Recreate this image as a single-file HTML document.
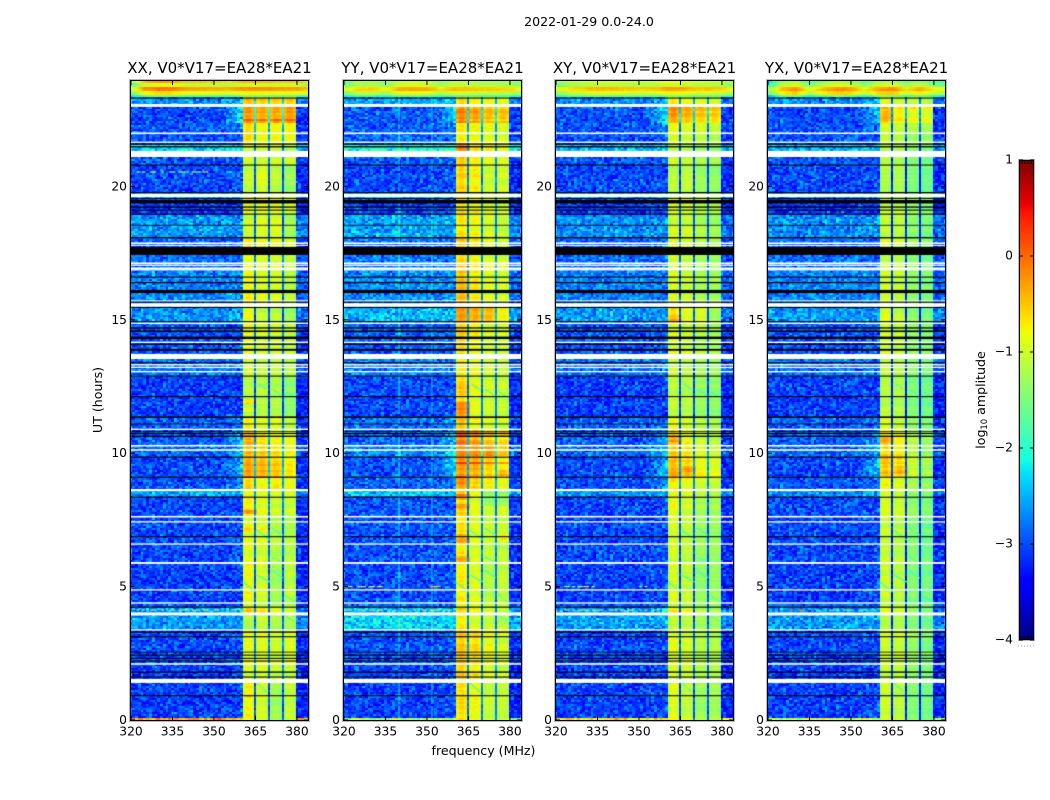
<!DOCTYPE html>
<html>
<head>
<meta charset="utf-8">
<title>2022-01-29 dynamic spectra</title>
<style>
html,body{margin:0;padding:0;background:#fff;}
#figure{position:relative;width:1050px;height:800px;overflow:hidden;background:#fff;font-family:"DejaVu Sans","Liberation Sans",sans-serif;}
#figure canvas{position:absolute;display:block;}
#overlay{position:absolute;left:0;top:0;}
#overlay text{font-family:"DejaVu Sans","Liberation Sans",sans-serif;fill:#000;}
</style>
</head>
<body>
<div id="figure">
<canvas id="c0" width="177" height="639" style="left:131px;top:81px"></canvas>
<canvas id="c1" width="177" height="639" style="left:344px;top:81px"></canvas>
<canvas id="c2" width="177" height="639" style="left:556px;top:81px"></canvas>
<canvas id="c3" width="177" height="639" style="left:768px;top:81px"></canvas>
<canvas id="cbar" width="15" height="480" style="left:1019px;top:160px"></canvas>
<svg id="overlay" width="1050" height="800" xmlns="http://www.w3.org/2000/svg">
<text x="589" y="26" text-anchor="middle" font-size="12.6">2022-01-29 0.0-24.0</text>
<text x="483.5" y="755" text-anchor="middle" font-size="12.6">frequency (MHz)</text>
<text transform="translate(102,400) rotate(-90)" text-anchor="middle" font-size="12.6">UT (hours)</text>
<text transform="translate(985,400) rotate(-90)" text-anchor="middle" font-size="12.6">log<tspan font-size="8.4" dy="2">10</tspan><tspan dy="-2"> amplitude</tspan></text>
</svg>
</div>
<script>
/* axis tick labels */
const freqTicks = [320, 335, 350, 365, 380];
const hourTicks = [0, 5, 10, 15, 20];
const colorTicks = [1, 0, -1, -2, -3, -4];
const panelNames = ["XX", "YY", "XY", "YX"];
const baselineTitle = "V0*V17=EA28*EA21";

/* UT hours (upper edge) of each time block in the tables below; last value closes the last block */
const blockEdges = [23.95,23.84,23.73,23.58,23.46,23.35,22.98,22.38,22.00,21.66,21.52,21.33,20.80,19.76,19.56,18.92,18.08,17.43,16.87,15.47,14.87,13.53,12.89,11.36,10.87,10.27,9.87,9.08,8.63,8.35,7.62,5.89,4.38,4.21,3.97,3.37,2.10,1.39,0.06,0];

/* log10 amplitude for each block: background, shoulder, sub-band 1..4 (first five blocks: top stripes use the first value) */
const xxLevels = [
[-0.6,-0.8,-0.75,-0.8,-0.8,-0.9],[-1.15,-1.3,-1.1,-1.2,-1.1,-1.2],[-0.45,-0.7,-0.7,-0.75,-0.7,-0.8],[-0.9,-1.2,-1.0,-1.1,-1.1,-1.2],[-1.7,-1.8,-1.3,-1.4,-1.4,-1.5],
[-2.7,-2.6,-0.5,-0.6,-0.6,-0.6],[-3.05,-2.2,-0.25,-0.35,-0.35,-0.3],[-3.0,-2.8,-0.7,-0.85,-0.85,-0.85],[-3.0,-2.9,-0.6,-0.8,-0.8,-0.8],[-2.9,-2.8,-0.8,-0.9,-0.9,-1.0],
[-2.3,-2.3,-1.0,-1.0,-1.0,-1.2],[-3.0,-3.0,-1.0,-1.0,-1.0,-1.0],[-3.05,-3.0,-1.1,-0.95,-1.15,-1.35],[-2.4,-2.4,-1.0,-0.9,-0.9,-1.0],[-3.15,-3.1,-0.85,-0.85,-0.85,-1.0],
[-2.65,-2.65,-1.05,-0.95,-0.95,-1.3],[-2.9,-2.9,-0.7,-0.75,-0.8,-1.0],[-2.85,-2.85,-0.85,-0.9,-1.0,-1.1],[-2.75,-2.75,-0.8,-0.95,-1.0,-1.15],[-2.65,-2.6,-0.85,-1.1,-1.15,-1.35],
[-3.0,-3.0,-0.85,-0.95,-1.0,-1.1],[-2.85,-2.8,-1.0,-1.1,-1.1,-1.2],[-3.1,-3.1,-1.15,-1.15,-1.2,-1.4],[-2.95,-2.9,-0.85,-1.0,-1.0,-1.2],[-2.95,-2.6,-0.45,-0.75,-0.85,-0.9],
[-2.9,-2.5,-0.5,-0.6,-0.7,-0.85],[-3.05,-2.5,-0.35,-0.45,-0.55,-0.75],[-3.0,-2.7,-0.6,-0.8,-0.75,-0.85],[-2.6,-2.6,-0.9,-0.95,-1.0,-1.0],[-3.05,-3.0,-0.7,-0.9,-1.05,-1.05],
[-3.05,-3.0,-0.95,-1.0,-1.2,-1.2],[-3.1,-3.05,-0.85,-1.0,-1.3,-1.15],[-2.95,-2.9,-1.0,-1.1,-1.2,-1.2],[-2.65,-2.5,-0.6,-0.7,-1.0,-1.1],[-2.65,-2.6,-1.2,-1.05,-1.2,-1.2],
[-3.05,-3.0,-0.9,-0.9,-1.05,-0.95],[-3.1,-3.05,-1.0,-0.95,-1.1,-1.1],[-3.1,-3.05,-0.8,-1.0,-1.3,-1.1],[-0.35,-0.4,-0.8,-1.0,-1.3,-1.1]
];
const yyLevels = [
[-1.3,-1.0,-1.0,-1.1,-1.1,-1.2],[-1.3,-1.4,-1.1,-1.2,-1.2,-1.3],[-0.7,-0.9,-0.9,-1.0,-1.0,-1.1],[-1.2,-1.3,-1.0,-1.2,-1.2,-1.3],[-1.9,-1.9,-1.3,-1.5,-1.5,-1.6],
[-2.6,-2.5,-0.6,-0.8,-0.8,-0.9],[-3.0,-2.3,-0.2,-0.35,-0.5,-0.55],[-2.95,-2.8,-0.7,-0.85,-0.9,-0.95],[-2.9,-2.8,-0.75,-0.85,-0.95,-1.0],[-2.85,-2.8,-0.5,-0.8,-0.9,-1.0],
[-2.1,-2.1,-0.25,-0.7,-0.8,-0.95],[-3.0,-2.9,-0.6,-0.8,-0.95,-1.0],[-3.05,-3.0,-0.6,-0.75,-1.05,-1.0],[-2.3,-2.2,-0.8,-0.8,-1.0,-1.0],[-3.1,-3.05,-0.7,-0.8,-0.95,-1.05],
[-2.6,-2.6,-0.7,-0.85,-1.0,-1.1],[-2.85,-2.85,-0.5,-0.7,-0.85,-1.0],[-2.8,-2.8,-0.6,-0.8,-1.0,-1.05],[-2.7,-2.7,-0.5,-0.75,-0.95,-1.0],[-2.5,-2.5,-0.3,-0.4,-0.5,-0.8],
[-2.95,-2.95,-0.6,-0.8,-1.0,-1.0],[-2.8,-2.8,-0.75,-0.9,-1.05,-1.1],[-3.05,-3.0,-0.6,-0.9,-1.05,-1.1],[-2.85,-2.7,-0.5,-0.8,-0.95,-1.0],[-2.9,-2.5,-0.3,-0.5,-0.75,-0.85],
[-2.75,-2.3,-0.2,-0.25,-0.3,-0.55],[-3.0,-2.4,-0.25,-0.4,-0.6,-0.8],[-2.95,-2.7,-0.45,-0.6,-0.75,-0.9],[-2.4,-2.4,-0.5,-0.85,-1.1,-1.1],[-3.0,-3.0,-0.65,-0.95,-1.1,-1.05],
[-3.0,-3.0,-0.7,-0.95,-1.1,-1.1],[-3.05,-3.0,-0.75,-0.95,-1.2,-1.1],[-2.9,-2.9,-0.9,-1.0,-1.1,-1.1],[-2.5,-2.4,-0.6,-0.8,-1.0,-1.1],[-2.35,-2.35,-0.75,-1.0,-1.1,-1.15],
[-3.0,-2.95,-0.55,-0.65,-0.85,-1.0],[-3.05,-3.0,-0.55,-0.7,-0.95,-1.05],[-3.1,-3.05,-0.65,-0.85,-1.1,-1.1],[-1.3,-1.3,-0.65,-0.85,-1.1,-1.1]
];
const xyLevels = [
[-1.1,-0.9,-1.0,-1.1,-1.2,-1.3],[-1.3,-1.3,-1.2,-1.3,-1.3,-1.4],[-0.65,-0.9,-0.9,-1.0,-1.1,-1.2],[-1.1,-1.3,-1.2,-1.3,-1.3,-1.4],[-1.8,-1.9,-1.4,-1.5,-1.5,-1.6],
[-2.7,-2.6,-0.7,-0.8,-0.9,-1.0],[-3.0,-2.3,-0.3,-0.45,-0.55,-0.6],[-3.0,-2.8,-0.9,-1.0,-1.05,-1.15],[-3.0,-2.85,-0.95,-1.05,-1.1,-1.2],[-2.95,-2.85,-1.0,-1.1,-1.2,-1.3],
[-2.45,-2.4,-1.05,-1.1,-1.25,-1.35],[-3.0,-2.95,-1.05,-1.1,-1.25,-1.3],[-3.05,-3.0,-1.15,-1.1,-1.35,-1.4],[-2.5,-2.4,-1.1,-1.1,-1.2,-1.3],[-3.15,-3.1,-0.95,-1.0,-1.15,-1.2],
[-2.7,-2.7,-1.05,-1.05,-1.25,-1.35],[-2.9,-2.9,-0.85,-0.95,-1.1,-1.2],[-2.85,-2.85,-1.0,-1.1,-1.25,-1.3],[-2.75,-2.75,-0.95,-1.05,-1.25,-1.3],[-2.65,-2.65,-0.7,-0.9,-0.95,-1.3],
[-3.0,-3.0,-0.95,-1.05,-1.25,-1.3],[-2.85,-2.85,-1.05,-1.15,-1.3,-1.35],[-3.1,-3.05,-1.1,-1.15,-1.35,-1.4],[-2.95,-2.85,-0.9,-1.05,-1.2,-1.3],[-2.95,-2.6,-0.6,-0.85,-1.05,-1.15],
[-2.9,-2.5,-0.55,-0.7,-0.95,-1.05],[-3.05,-2.5,-0.45,-0.6,-0.85,-0.95],[-3.0,-2.75,-0.7,-0.85,-1.0,-1.05],[-2.65,-2.6,-0.95,-1.0,-1.2,-1.25],[-3.05,-3.0,-0.85,-1.0,-1.25,-1.25],
[-3.05,-3.0,-1.0,-1.1,-1.35,-1.35],[-3.1,-3.05,-1.0,-1.1,-1.4,-1.35],[-2.95,-2.9,-1.05,-1.15,-1.3,-1.3],[-2.7,-2.5,-0.7,-0.85,-1.15,-1.25],[-2.6,-2.55,-1.1,-1.15,-1.3,-1.3],
[-3.05,-3.0,-0.9,-1.0,-1.2,-1.2],[-3.1,-3.05,-1.0,-1.05,-1.25,-1.25],[-3.1,-3.05,-0.95,-1.1,-1.35,-1.3],[-0.7,-0.8,-0.95,-1.1,-1.35,-1.3]
];
const yxLevels = [
[-1.6,-1.0,-1.1,-1.2,-1.3,-1.4],[-1.2,-1.4,-1.3,-1.4,-1.4,-1.5],[-0.55,-0.9,-1.0,-1.1,-1.2,-1.3],[-0.9,-1.3,-1.3,-1.4,-1.4,-1.5],[-1.8,-2.0,-1.5,-1.6,-1.6,-1.7],
[-2.7,-2.6,-0.9,-1.0,-1.1,-1.2],[-3.05,-2.4,-0.55,-0.75,-0.85,-0.9],[-3.0,-2.85,-1.0,-1.1,-1.2,-1.3],[-3.0,-2.9,-1.05,-1.15,-1.3,-1.35],[-2.95,-2.9,-1.15,-1.2,-1.4,-1.5],
[-2.5,-2.45,-1.15,-1.25,-1.45,-1.55],[-3.0,-2.95,-1.1,-1.2,-1.45,-1.55],[-3.05,-3.0,-1.2,-1.2,-1.5,-1.6],[-2.55,-2.45,-1.15,-1.2,-1.4,-1.5],[-3.15,-3.1,-1.05,-1.1,-1.35,-1.45],
[-2.7,-2.7,-1.1,-1.15,-1.45,-1.55],[-2.9,-2.9,-0.95,-1.05,-1.3,-1.45],[-2.85,-2.85,-1.1,-1.15,-1.4,-1.55],[-2.75,-2.75,-1.0,-1.1,-1.4,-1.5],[-2.65,-2.65,-0.95,-1.15,-1.45,-1.6],
[-3.0,-3.0,-1.0,-1.1,-1.4,-1.5],[-2.85,-2.85,-1.1,-1.2,-1.45,-1.55],[-3.1,-3.05,-1.15,-1.2,-1.5,-1.6],[-2.95,-2.85,-0.95,-1.1,-1.4,-1.5],[-2.95,-2.65,-0.7,-0.85,-1.2,-1.4],
[-2.9,-2.55,-0.6,-0.75,-1.15,-1.35],[-3.05,-2.55,-0.55,-0.7,-1.1,-1.3],[-3.0,-2.8,-0.8,-0.95,-1.25,-1.4],[-2.7,-2.65,-1.0,-1.1,-1.4,-1.5],[-3.05,-3.0,-0.95,-1.05,-1.4,-1.5],
[-3.05,-3.0,-1.05,-1.15,-1.45,-1.6],[-3.1,-3.05,-1.05,-1.15,-1.5,-1.6],[-2.95,-2.9,-1.1,-1.2,-1.45,-1.55],[-2.7,-2.55,-0.85,-1.0,-1.35,-1.5],[-2.65,-2.6,-1.15,-1.2,-1.45,-1.55],
[-3.05,-3.0,-1.0,-1.05,-1.35,-1.5],[-3.1,-3.05,-1.05,-1.1,-1.4,-1.5],[-3.1,-3.05,-1.05,-1.15,-1.5,-1.6],[-1.0,-1.1,-1.05,-1.15,-1.5,-1.6]
];

/* flagged time ranges in UT hours [start, end] */
const whiteFlags = [[23.09,22.98],[22.02,21.96],[21.68,21.63],[21.33,21.10],[19.72,19.60],[17.90,17.84],[17.81,17.77],[17.15,17.09],[17.07,17.02],[16.96,16.90],[16.90,16.85],[15.73,15.69],[15.62,15.49],[14.89,14.84],[14.18,14.13],[13.72,13.53],[13.34,13.29],[13.24,13.19],[13.08,13.03],[10.92,10.87],[10.31,10.25],[10.15,10.09],[8.66,8.58],[7.65,7.59],[7.45,7.40],[6.62,6.57],[5.92,5.85],[4.90,4.85],[4.41,4.36],[4.03,3.92],[3.40,3.35],[2.13,2.07],[1.54,1.39]];
const blackFlags = [[23.33,23.29],[21.61,21.56],[21.51,21.46],[20.82,20.78],[19.79,19.74],[19.57,19.53],[19.49,19.36],[19.25,19.20],[19.13,19.09],[18.98,18.94],[18.56,18.53],[18.10,18.05],[17.73,17.43],[16.62,16.58],[16.42,16.37],[16.12,16.00],[15.69,15.64],[15.48,15.44],[14.95,14.91],[14.72,14.67],[14.60,14.54],[14.37,14.28],[14.11,14.06],[13.91,13.84],[13.41,13.37],[12.91,12.87],[12.14,12.10],[11.38,11.32],[11.11,11.08],[10.82,10.79],[10.76,10.72],[10.66,10.61],[9.87,9.83],[9.12,9.08],[8.37,8.33],[6.89,6.85],[4.25,4.21],[3.32,3.27],[3.14,3.10],[2.56,2.53],[2.45,2.41],[2.33,2.29],[2.23,2.19],[1.82,1.77],[1.63,1.59],[0.93,0.89]];

/* sub-band edges in MHz (start, end of each of the four bright sub-bands) */
const subBands = [[360.5,364.5],[365.5,369.5],[370.5,374.5],[375.5,379.5]];
const subBandProfile = [-0.06,0.06,0.06,-0.06];
/* brighter or dimmer bars inside the sub-bands: panel, hour start, hour end, sub-band (-1 = all), level change */
const bandBars = [
[0,12.07,11.84,0,0.4],[0,11.69,11.54,0,0.3],[0,7.87,7.68,0,0.35],[0,7.27,7.0,0,0.3],[0,7.27,7.0,1,0.2],[0,9.14,9.08,-1,0.4],[0,22.55,22.47,-1,0.3],
[1,11.9,11.4,0,0.35],[1,10.76,10.64,-1,0.4],[1,10.5,10.25,-1,0.25],[1,9.67,9.6,-1,0.45],[1,9.37,9.15,3,0.4],[1,9.15,8.73,0,0.25],[1,8.45,8.25,0,0.35],[1,8.05,7.95,0,0.3],[1,6.94,6.56,0,0.3],[1,6.94,6.7,3,0.35],[1,6.1,5.93,0,0.3],[1,8.6,8.0,2,-0.3],[1,8.6,8.0,3,-0.3],
[2,10.6,10.4,0,0.3],[2,9.5,9.3,1,0.3],[2,15.2,15.0,0,0.3],[2,14.8,14.5,2,0.25],
[3,10.6,10.3,0,0.25],[3,9.5,9.2,1,0.25],[3,22.8,22.5,0,0.2]
];
/* thin dim streaks across the sub-bands: hour start, MHz start, hour end, MHz end */
const bandStreakHourA = [5.43,5.62,5.17,1.39,4.69,7.12,7.20,12.6,12.4,12.3,3.9,6.1];
const bandStreakFreqA = [365.5,370.9,360.5,365.5,375.6,365.5,370.9,366,371,376,376,371];
const bandStreakHourB = [5.17,5.32,4.80,1.05,4.39,6.75,6.93,12.4,12.2,12.1,3.7,5.95];
const bandStreakFreqB = [370.2,374.9,365.1,369.1,379.6,370.2,374.9,369,374,379,379,374];
/* spectral profile of the stripes in the top blocks, one value per 5 MHz from 320 MHz */
const topProfileXX = [-0.6,0.15,0.35,0.3,0.1,0.1,0.05,0,0.15,0.2,0.15,0.15,0.1,-0.1];
const topProfileYY = [-0.3,0.05,0.1,-0.1,0.25,0.35,0.3,0,0.2,0.2,0.1,0.1,0.05,-0.2];
const topProfileXY = [-0.3,0,0.1,0.2,0.2,0.15,0.1,0.1,0.3,0.3,0.15,0.15,0.05,-0.2];
const topProfileYX = [-0.8,0.1,0.35,-0.3,0.1,0.35,0.25,-0.2,0.25,0.35,-0.1,0.2,-0.2,-0.4];
/* interference tracks: panel, hour, start MHz, end MHz, level */
const rfiTracks = [
[0,20.54,320,348,-1.1],[0,4.12,320,360,-1.2],[1,5.00,320,334,-1.0],[1,5.00,350,355,-0.6],[1,4.12,320,360,-1.3],
[2,5.00,320,334,-1.1],[2,5.00,350,354,-1.0],[2,4.12,320,360,-1.3],[3,4.12,328,334,-0.4],[3,4.12,334,360,-1.6]
];
/* persistent interfering channels: panel, MHz, level increase */
const rfiChannels = [[1,339.9,0.8],[1,351.8,0.65]];

/* fixed table used only as visual grain on top of the levels above */
const grainTable = [0.31,-0.74,0.12,0.88,-0.42,-0.09,0.57,-0.95,0.24,0.66,-0.33,0.05,-0.61,0.93,-0.18,0.41,-0.83,0.72,-0.27,0.16,-0.52,0.84,0.02,-0.69,0.37,-0.12,0.98,-0.46,0.21,-0.88,0.53,0.09,-0.36,0.77,-0.58,-0.03,0.46,-0.79,0.29,0.62,-0.22,-0.91,0.14,0.81,-0.49,0.34,-0.15,0.69,-0.64,0.07,0.91,-0.39,-0.76,0.26,0.59,-0.06,-0.55,0.44,0.19,-0.29,0.75];

const panelLevels = [xxLevels, yyLevels, xyLevels, yxLevels];
const panelTopProfiles = [topProfileXX, topProfileYY, topProfileXY, topProfileYX];
const panelLefts = [131, 344, 556, 768];
const plotW = 177, plotH = 639, plotTop = 81;
const freqMin = 320, freqMax = 384, hourMax = 23.95;
const cellRows = 320, cellCols = 65;

function freqToX(f) { return (f - freqMin) / (freqMax - freqMin) * plotW; }
function hourToY(h) { return (hourMax - h) / hourMax * plotH; }
function jetChannel(t, pts) {
  for (let i = 1; i < pts.length; i++) {
    if (t <= pts[i][0]) {
      const a = pts[i - 1], b = pts[i];
      return a[1] + (b[1] - a[1]) * (t - a[0]) / (b[0] - a[0]);
    }
  }
  return pts[pts.length - 1][1];
}
function jet(v) {
  const t = Math.max(0, Math.min(1, (v + 4) / 5));
  const r = jetChannel(t, [[0,0],[0.35,0],[0.66,1],[0.89,1],[1,0.5]]);
  const g = jetChannel(t, [[0,0],[0.125,0],[0.375,1],[0.64,1],[0.91,0],[1,0]]);
  const b = jetChannel(t, [[0,0.5],[0.11,1],[0.34,1],[0.65,0],[1,0]]);
  return "rgb(" + Math.round(r * 255) + "," + Math.round(g * 255) + "," + Math.round(b * 255) + ")";
}
function grainIndex(i) {
  return Math.round((grainTable[i % grainTable.length] + 1) * 30);
}
function grain(row, col, panel) {
  const n = grainTable.length;
  const rowShift = grainIndex(row + panel * 3) + grainIndex(row * row + panel);
  const colShift = grainIndex(col * 3 + panel * 5) + grainIndex(col * col + panel * 2);
  const a = grainTable[(rowShift + col * 23) % n];
  const b = grainTable[(colShift + row * 37) % n];
  return (a + b) * 0.5;
}
function blockIndexAt(h) {
  for (let i = 0; i < blockEdges.length - 1; i++) {
    if (h <= blockEdges[i] && h > blockEdges[i + 1]) return i;
  }
  return h > blockEdges[0] ? 0 : blockEdges.length - 2;
}
function topProfileAt(panel, f) {
  const p = panelTopProfiles[panel];
  const u = Math.max(0, (f - freqMin) / 5);
  const i = Math.min(p.length - 2, Math.floor(u));
  return p[i] + (p[i + 1] - p[i]) * (u - i);
}
function isNotch(f) {
  return f > subBands[0][1] && f < subBands[3][0] && !subBands.some(function (s) { return f >= s[0] && f <= s[1]; });
}
function barDelta(panel, hour, sub) {
  let d = 0;
  for (const bar of bandBars) {
    if (bar[0] === panel && hour <= bar[1] && hour > bar[2] && (bar[3] === -1 || bar[3] === sub)) d += bar[4];
  }
  return d;
}
function levelAt(levels, blockIdx, f, row, col, panel, hour) {
  const L = levels[blockIdx];
  const rowTerm = grainTable[(row * 29 + panel * 5) % grainTable.length];
  if (blockIdx < 5) {
    return L[0] + topProfileAt(panel, f) + grain(row, col, panel) * 0.08 + rowTerm * 0.07;
  }
  for (let s = 0; s < subBands.length; s++) {
    const lo = subBands[s][0], hi = subBands[s][1];
    if (f >= lo && f <= hi) {
      const pos = Math.min(3, Math.floor((f - lo) / (hi - lo) * 4));
      return L[s + 2] + subBandProfile[pos] + grain(row, col, panel) * 0.1 + rowTerm * 0.13 + barDelta(panel, hour, s);
    }
  }
  if (isNotch(f)) {
    const low = Math.min(L[2], L[3], L[4], L[5]);
    return low - 1.7 + grain(row, col, panel) * 0.3;
  }
  const noise = grain(row, col, panel) * 0.65 + rowTerm * 0.04;
  if (f >= subBands[3][1]) return L[0] - 0.15 + noise;
  let base = L[0];
  if (f >= 353) base = L[0] + (L[1] - L[0]) * (f - 353) / 7;
  return base + noise;
}
function drawPanel(panel) {
  const canvas = document.getElementById("c" + panel);
  const ctx = canvas.getContext("2d");
  const levels = panelLevels[panel];
  ctx.fillStyle = "#00f";
  ctx.fillRect(0, 0, plotW, plotH);
  const dh = hourMax / cellRows;
  for (let r = 0; r < cellRows; r++) {
    const hTop = hourMax - r * dh;
    const hMid = hTop - dh / 2;
    const b = blockIndexAt(hMid);
    const y0 = Math.round(hourToY(hTop)), y1 = Math.round(hourToY(hTop - dh));
    for (let c = 0; c < cellCols; c++) {
      const f = freqMin + c;
      const x0 = Math.round(freqToX(f - 0.5)), x1 = Math.round(freqToX(f + 0.5));
      if (b >= 5 && isNotch(f)) {
        ctx.fillStyle = jet(levelAt(levels, b, f - 1, r, c, panel, hMid));
        ctx.fillRect(x0, y0, x1 - x0, y1 - y0);
        ctx.fillStyle = jet(levelAt(levels, b, f, r, c, panel, hMid));
        ctx.fillRect(x0, y0, 2, y1 - y0);
      } else {
        ctx.fillStyle = jet(levelAt(levels, b, f, r, c, panel, hMid));
        ctx.fillRect(x0, y0, x1 - x0, y1 - y0);
      }
    }
    for (const ch of rfiChannels) {
      if (ch[0] !== panel || b < 5 || b >= 38) continue;
      if (grainTable[(r * 11) % grainTable.length] < -0.5) continue;
      ctx.fillStyle = jet(levels[b][0] + ch[2]);
      ctx.fillRect(freqToX(ch[1]) - 0.6, y0, 1.2, y1 - y0);
    }
  }
  ctx.lineWidth = 1.2;
  ctx.strokeStyle = jet(-1.85);
  bandStreakHourA.forEach(function (h0, i) {
    ctx.beginPath();
    ctx.moveTo(freqToX(bandStreakFreqA[i]), hourToY(h0));
    ctx.lineTo(freqToX(bandStreakFreqB[i]), hourToY(bandStreakHourB[i]));
    ctx.stroke();
  });
  for (const tr of rfiTracks) {
    if (tr[0] !== panel) continue;
    for (let f = tr[2]; f < tr[3]; f++) {
      if (grainTable[(f * 13 + panel) % grainTable.length] < -0.1) continue;
      const bump = grainTable[(f * 7) % grainTable.length] * 0.4;
      ctx.fillStyle = jet(tr[4] + bump);
      ctx.fillRect(freqToX(f), hourToY(tr[1]) - 0.6, freqToX(f + 1) - freqToX(f), 1.2);
    }
  }
  ctx.fillStyle = "#000";
  for (const fl of blackFlags) {
    ctx.fillRect(0, hourToY(fl[0]), plotW, hourToY(fl[1]) - hourToY(fl[0]));
  }
  ctx.fillStyle = "#fff";
  for (const fl of whiteFlags) {
    ctx.fillRect(0, hourToY(fl[0]), plotW, hourToY(fl[1]) - hourToY(fl[0]));
  }
}
panelLevels.forEach(function (_, i) { drawPanel(i); });

/* colorbar */
(function () {
  const ctx = document.getElementById("cbar").getContext("2d");
  for (let y = 0; y < 480; y++) {
    ctx.fillStyle = jet(1 - (y + 0.5) / 480 * 5);
    ctx.fillRect(0, y, 15, 1);
  }
})();

const NS = "http://www.w3.org/2000/svg";
const svg = document.getElementById("overlay");
function addLine(x1, y1, x2, y2, stroke, width) {
  const l = document.createElementNS(NS, "line");
  l.setAttribute("x1", x1);
  l.setAttribute("y1", y1);
  l.setAttribute("x2", x2);
  l.setAttribute("y2", y2);
  l.setAttribute("stroke", stroke);
  l.setAttribute("stroke-width", width);
  svg.appendChild(l);
  return l;
}
function addText(x, y, str, size, anchor) {
  const t = document.createElementNS(NS, "text");
  t.setAttribute("x", x);
  t.setAttribute("y", y);
  t.setAttribute("font-size", size);
  t.setAttribute("text-anchor", anchor);
  t.textContent = str;
  svg.appendChild(t);
  return t;
}
function addFrame(x, y, w, h, stroke) {
  const f = document.createElementNS(NS, "rect");
  f.setAttribute("x", x);
  f.setAttribute("y", y);
  f.setAttribute("width", w);
  f.setAttribute("height", h);
  f.setAttribute("fill", "none");
  f.setAttribute("stroke", stroke);
  f.setAttribute("stroke-width", "1");
  svg.appendChild(f);
  return f;
}
panelLefts.forEach(function (left, i) {
  const name = panelNames[i].toLowerCase();
  const halo = addFrame(left - 1.5, plotTop - 1.5, plotW + 3, plotH + 3, "#b8b8b8");
  
  
  const frame = addFrame(left - 0.5, plotTop - 0.5, plotW + 1, plotH + 1, "#000");
  
  

  const title = addText(left + 88.5, 73, panelNames[i] + ", " + baselineTitle, 15, "middle");
  
  

  freqTicks.forEach(function (f) {
    const x = left + freqToX(f);
    const tickB = addLine(x, plotTop + plotH, x, plotTop + plotH - 4, "#000", 1);
    
    
    const tickT = addLine(x, plotTop, x, plotTop + 4, "#000", 1);
    
    
    const lbl = addText(x, 735.5, String(f), 12.3, "middle");
    
    
  });
  hourTicks.forEach(function (h) {
    const y = plotTop + hourToY(h);
    const tickL = addLine(left, y, left + 4, y, "#000", 1);
    
    
    const tickR = addLine(left + plotW, y, left + plotW - 4, y, "#000", 1);
    
    
    const lbl = addText(left - 4, y + 4, String(h), 12.3, "end");
    
    
  });
});

/* colorbar frame, ticks, labels */
const cbHalo = addFrame(1018.5, 159.5, 16, 481, "#b8b8b8");


const cbFrame = addFrame(1019.5, 160.5, 14, 479, "#000");


colorTicks.forEach(function (v) {
  const y = 160 + (1 - v) / 5 * 480;
  const a = addLine(1019, y, 1023, y, "#000", 1);
  
  
  const b = addLine(1034, y, 1030, y, "#000", 1);
  
  
  const t = addText(1013, y + 3.5, String(v).replace("-", "\u2212"), 12.3, "end");
  
  
});
for (let i = 1; i < 5; i++) {
  const x = 1019 + i * 3;
  const top = addLine(x, 160, x, 164, "#000", 1);
  
  
  const bot = addLine(x, 640, x, 636, "#000", 1);
  
  
}
const cbDots = addLine(1018, 646, 1035, 646, "#999", 1);
cbDots.setAttribute("stroke-dasharray", "1 2");


</script>
</body>
</html>
